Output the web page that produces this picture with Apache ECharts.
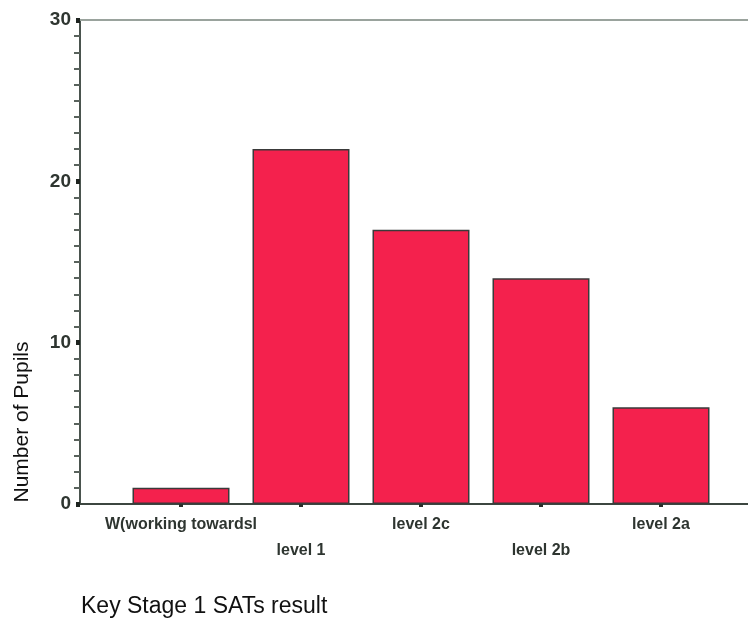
<!DOCTYPE html>
<html>
<head>
<meta charset="utf-8">
<script src="https://cdn.jsdelivr.net/npm/echarts@6/dist/echarts.min.js"></script>
<style>
  html, body { margin: 0; padding: 0; background: #ffffff; }
  #chart { width: 748px; height: 618px; }
</style>
</head>
<body>
<div id="chart"></div>
<script>
// Key Stage 1 SATs results: number of pupils at each level
const categories = ['W(working towardsl', 'level 1', 'level 2c', 'level 2b', 'level 2a'];
const pupils = [1, 22, 17, 14, 6];
const yTicks = [0, 10, 20, 30];

const textColor = '#2e3530';
const font = 'Liberation Sans, Arial, sans-serif';

const chart = echarts.init(document.getElementById('chart'), null, { renderer: 'canvas' });

chart.setOption({
  backgroundColor: '#ffffff',
  animation: false,
  title: {
    text: 'Key Stage 1 SATs result',
    left: 76,
    top: 590,
    textStyle: { fontFamily: font, fontSize: 23, fontWeight: 'normal', color: '#111' }
  },
  graphic: [{
    type: 'text',
    x: 22,
    y: 422,
    rotation: Math.PI / 2,
    style: {
      text: 'Number of Pupils',
      fontFamily: font,
      fontSize: 21,
      fill: '#111',
      align: 'center',
      verticalAlign: 'middle'
    }
  }],
  grid: [
    // frame grid: holds the y axis and the long horizontal rules
    { left: 80, right: -10, top: 20, bottom: 114 },
    // bar grid
    { left: 121, right: 27, top: 20, bottom: 114 }
  ],
  xAxis: [
    {
      gridIndex: 0, type: 'value', min: 0, max: 1, position: 'bottom',
      axisLine: { show: true, lineStyle: { color: '#3c4640', width: 2 } },
      axisTick: { show: false }, axisLabel: { show: false }, splitLine: { show: false }
    },
    {
      gridIndex: 0, type: 'value', min: 0, max: 1, position: 'top',
      axisLine: { show: true, lineStyle: { color: '#9aa39d', width: 2 } },
      axisTick: { show: false }, axisLabel: { show: false }, splitLine: { show: false }
    },
    {
      gridIndex: 1, type: 'category', data: categories, position: 'bottom',
      axisLine: { show: false },
      axisTick: { show: true, alignWithLabel: true, length: 3, lineStyle: { color: '#2a302c', width: 4 } },
      axisLabel: {
        interval: 0,
        margin: 8,
        fontFamily: font,
        fontSize: 16,
        fontWeight: 'bold',
        color: textColor,
        lineHeight: 26,
        formatter: (v, i) => (i % 2 === 1 ? '\n' + v : v)
      }
    }
  ],
  yAxis: [
    {
      gridIndex: 0, type: 'value', min: 0, max: 30, interval: 10,
      axisLine: { show: true, lineStyle: { color: '#4a544e', width: 2 } },
      axisTick: { show: true, length: 4, lineStyle: { color: '#1e2420', width: 5 } },
      minorTick: { show: true, splitNumber: 10, length: 6, lineStyle: { color: '#59625c', width: 2 } },
      axisLabel: {
        margin: 9,
        fontFamily: font,
        fontSize: 19,
        fontWeight: 'bold',
        color: textColor,
        customValues: yTicks
      },
      splitLine: { show: false }
    },
    {
      gridIndex: 1, type: 'value', min: 0, max: 30, interval: 10, show: false
    }
  ],
  series: [{
    type: 'bar',
    xAxisIndex: 2,
    yAxisIndex: 1,
    data: pupils,
    barWidth: 97,
    itemStyle: { color: '#f4214d', borderColor: '#3a3a3a', borderWidth: 1.5 }
  }]
});
</script>
</body>
</html>
